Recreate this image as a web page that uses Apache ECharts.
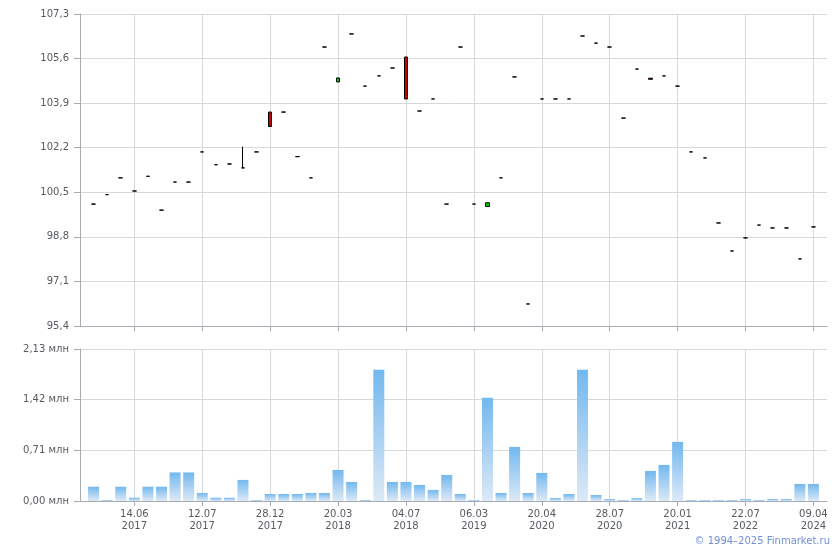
<!DOCTYPE html>
<html>
<head>
<meta charset="utf-8">
<script src="https://cdn.jsdelivr.net/npm/echarts@6/dist/echarts.min.js"></script>
<style>
html,body{margin:0;padding:0;background:#fff;}
#c{width:840px;height:550px;}
</style>
</head>
<body>
<div id="c"></div>
<script>
// tick labels shown on the x axis (every 5th session)
const tickLabels = ['14.06\n2017','12.07\n2017','28.12\n2017','20.03\n2018','04.07\n2018','06.03\n2019','20.04\n2020','28.07\n2020','20.01\n2021','22.07\n2022','09.04\n2024'];
const tickPositions = [3,8,13,18,23,28,33,38,43,48,53];

const opens  = [100.05,100.41,101.05,100.55,101.11,99.82,100.89,100.89,102.04,101.55,
                101.58,101.43,102.04,103.56,103.56,101.86,101.05,106.04,104.71,106.54,
                104.55,104.94,105.24,105.66,103.60,104.06,100.05,106.04,100.05,99.96,
                101.05,104.90,96.24,104.06,104.06,104.06,106.46,106.19,106.04,103.33,
                105.20,104.85,104.94,104.55,102.04,101.81,99.33,98.26,98.76,99.25,
                99.14,99.14,97.96,99.18];
const closes = [100.05,100.41,101.05,100.55,101.11,99.82,100.89,100.89,102.04,101.55,
                101.58,101.43,102.04,103.01,103.56,101.86,101.05,106.04,104.86,106.54,
                104.55,104.94,105.24,104.06,103.60,104.06,100.05,106.04,100.05,100.10,
                101.05,104.90,96.24,104.06,104.06,104.06,106.46,106.19,106.04,103.33,
                105.20,104.81,104.94,104.55,102.04,101.81,99.33,98.26,98.76,99.25,
                99.14,99.14,97.96,99.18];
const lows   = [100.05,100.41,101.05,100.55,101.11,99.82,100.89,100.89,102.04,101.55,
                101.58,101.43,102.04,103.01,103.56,101.86,101.05,106.04,104.71,106.54,
                104.55,104.94,105.24,104.06,103.60,104.06,100.05,106.04,100.05,99.96,
                101.05,104.90,96.24,104.06,104.06,104.06,106.46,106.19,106.04,103.33,
                105.20,104.81,104.94,104.55,102.04,101.81,99.33,98.26,98.76,99.25,
                99.14,99.14,97.96,99.18];
const highs  = [100.05,100.41,101.05,100.55,101.11,99.82,100.89,100.89,102.04,101.55,
                101.58,102.24,102.04,103.56,103.56,101.86,101.05,106.04,104.86,106.54,
                104.55,104.94,105.24,105.66,103.60,104.06,100.05,106.04,100.05,100.10,
                101.05,104.90,96.24,104.06,104.06,104.06,106.46,106.19,106.04,103.33,
                105.20,104.85,104.94,104.55,102.04,101.81,99.33,98.26,98.76,99.25,
                99.14,99.14,97.96,99.18];
// volume, millions
const volumes = [0.20,0.014,0.20,0.046,0.20,0.20,0.40,0.40,0.112,0.046,
                 0.046,0.295,0.014,0.098,0.098,0.098,0.112,0.112,0.435,0.267,
                 0.014,1.84,0.267,0.267,0.225,0.155,0.365,0.098,0.014,1.447,
                 0.112,0.758,0.112,0.393,0.042,0.098,1.84,0.084,0.028,0.014,
                 0.042,0.421,0.506,0.829,0.014,0.014,0.014,0.014,0.028,0.014,
                 0.028,0.028,0.239,0.239];
const priceMin = 95.4, priceMax = 107.3, priceStep = 1.7;
const volMax = 2.13, volStep = 0.71;

const n = volumes.length;
// categories (one empty slot each side)
const categories = ['pad-start'];
for (let i = 0; i < n; i++) {
  const k = tickPositions.indexOf(i);
  categories.push(k >= 0 ? tickLabels[k] : 'd' + i);
}
categories.push('pad-end');

const candleData = ['-'];
for (let i = 0; i < n; i++) candleData.push([opens[i], closes[i], lows[i], highs[i]]);
candleData.push('-');
const volData = ['-'].concat(volumes, ['-']);

const isTick = (idx) => tickPositions.indexOf(idx - 1) >= 0;
const FONT = 'DejaVu Sans';
const FS = 10;
const gridColor = '#d6d9dc';
const axisColor = '#a9abb3';
const textColor = '#555a60';

const chart = echarts.init(document.getElementById('c'), null, {renderer: 'canvas'});
chart.setOption({
  animation: false,
  backgroundColor: '#fff',
  grid: [
    {left: 80, right: 13, top: 14, height: 312},
    {left: 80, right: 13, top: 349, height: 152}
  ],
  xAxis: [
    {
      type: 'category', gridIndex: 0, data: categories, boundaryGap: false,
      axisLine: {lineStyle: {color: axisColor}},
      axisTick: {show: true, interval: (i) => isTick(i), length: 5, lineStyle: {color: axisColor}},
      axisLabel: {show: false},
      splitLine: {show: true, interval: (i) => isTick(i), lineStyle: {color: gridColor}}
    },
    {
      type: 'category', gridIndex: 1, data: categories, boundaryGap: false,
      axisLine: {lineStyle: {color: axisColor}},
      axisTick: {show: true, interval: (i) => isTick(i), length: 5, lineStyle: {color: axisColor}},
      axisLabel: {
        interval: (i) => isTick(i), color: textColor, fontFamily: FONT, fontSize: FS,
        lineHeight: 12, margin: 7,
        formatter: (v) => (tickLabels.indexOf(v) >= 0 ? v : '')
      },
      splitLine: {show: true, interval: (i) => isTick(i), lineStyle: {color: gridColor}}
    }
  ],
  yAxis: [
    {
      type: 'value', gridIndex: 0, min: priceMin, max: priceMax, interval: priceStep,
      axisLine: {show: true, lineStyle: {color: axisColor}},
      axisTick: {show: true, length: 6, lineStyle: {color: axisColor}},
      axisLabel: {color: textColor, fontFamily: FONT, fontSize: FS, margin: 11,
        formatter: (v) => v.toFixed(1).replace('.', ',')},
      splitLine: {show: true, lineStyle: {color: gridColor}}
    },
    {
      type: 'value', gridIndex: 1, min: 0, max: volMax, interval: volStep,
      axisLine: {show: true, lineStyle: {color: axisColor}},
      axisTick: {show: true, length: 6, lineStyle: {color: axisColor}},
      axisLabel: {color: textColor, fontFamily: FONT, fontSize: FS, margin: 11,
        formatter: (v) => v.toFixed(2).replace('.', ',') + ' млн'},
      splitLine: {show: true, lineStyle: {color: gridColor}}
    }
  ],
  series: [
    {
      type: 'candlestick', xAxisIndex: 0, yAxisIndex: 0, data: candleData,
      barWidth: 4,
      itemStyle: {color: '#00cc00', color0: '#cc0000', borderColor: '#000', borderColor0: '#000', borderWidth: 1}
    },
    {
      type: 'bar', xAxisIndex: 1, yAxisIndex: 1, data: volData, barWidth: 11,
      itemStyle: {
        color: new echarts.graphic.LinearGradient(0, 0, 0, 1, [
          {offset: 0, color: '#72b8ef'},
          {offset: 1, color: '#dde9f6'}
        ])
      }
    }
  ],
  graphic: [
    {type: 'text', right: 10, bottom: 4,
     style: {text: '© 1994–2025 Finmarket.ru', fill: '#6f8fd8', font: '10px "DejaVu Sans"'}}
  ]
});
</script>
</body>
</html>
